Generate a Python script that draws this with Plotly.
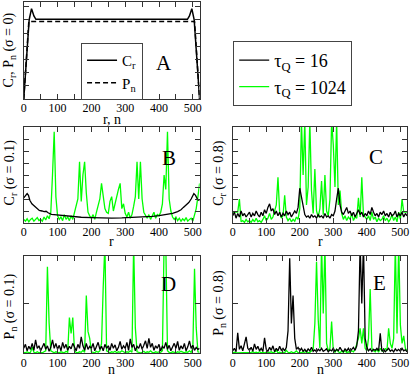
import plotly.graph_objects as go

# ---- panel A: sigma = 0 ----
r_a = [0, 16, 23, 30, 36, 484, 490, 497, 504, 520]
cr_a = [0, 6.0, 6.86, 6.3, 6.05, 6.05, 6.3, 6.86, 6.0, 0]
n_a = [0, 15, 505, 520]
pn_a = [0, 5.88, 5.88, 0]

# regular grid of sites (step 5) for panels B-E
sites = list(range(0, 521, 5))

# ---- panel B: C_r, sigma = 0.1 ----
r_b_16 = [0, 5, 10, 14, 18, 24, 30, 38, 46, 54, 60, 66, 72, 82, 95, 110, 130, 150, 170,
          200, 230, 260, 290, 320, 350, 380, 400, 420, 440, 455, 465, 472, 480, 488,
          495, 500, 503, 508, 514, 520]
cr_b_16 = [2.1, 2.3, 2.45, 2.3, 1.9, 1.6, 1.45, 1.25, 1.05, 1.0, 0.95, 0.98, 0.85, 0.72,
           0.68, 0.62, 0.55, 0.52, 0.48, 0.45, 0.4, 0.4, 0.42, 0.45, 0.5, 0.55, 0.62,
           0.7, 0.8, 0.95, 1.1, 1.3, 1.5, 1.7, 2.0, 2.35, 2.45, 2.3, 1.95, 1.85]
cr_b_1024 = [0.3, 0.15, 0.35, 0.1, 0.3, 0.4, 0.15, 0.3, 0.45, 0.2,
             0.3, 0.15, 0.5, 0.25, 0.6, 0.35, 0.9, 4.0, 7.6, 2.2,
             0.6, 0.3, 0.5, 0.2, 0.7, 0.3, 0.5, 0.2, 0.6, 0.3,
             0.8, 1.3, 2.0, 5.1, 1.8, 4.0, 5.1, 2.5, 0.9, 0.6,
             0.4, 0.7, 0.3, 0.9, 1.4, 2.0, 3.3, 2.3, 1.2, 0.9,
             0.8, 1.8, 2.2, 1.0, 1.6, 2.4, 2.8, 3.3, 1.2, 1.6,
             0.8, 0.5, 0.9, 0.4, 0.7, 1.4, 2.2, 5.1, 2.0, 5.1,
             2.0, 0.9, 0.6, 0.4, 0.7, 0.3, 0.6, 0.9, 0.4, 0.7,
             0.6, 0.9, 1.6, 4.0, 2.8, 7.6, 2.0, 1.0, 0.5, 0.3,
             0.5, 0.2, 0.4, 0.15, 0.35, 0.2, 0.45, 0.15, 0.3, 0.4,
             0.15, 0.6, 1.2, 2.2, 3.3]

# ---- panel C: C_r, sigma = 0.8 ----
cr_c_16 = [0.6, 0.9, 0.4, 0.8, 0.5, 1.0, 0.6, 0.8, 0.5, 0.7,
           0.9, 0.5, 0.8, 0.6, 1.0, 0.7, 0.5, 0.9, 0.6, 1.1,
           0.8, 1.3, 1.6, 1.0, 1.2, 0.7, 1.0, 0.6, 0.9, 0.5,
           0.8, 0.6, 1.0, 0.7, 0.9, 0.5, 0.8, 1.0, 0.8, 1.3,
           2.9, 2.2, 1.2, 0.7, 0.5, 0.6, 0.4, 0.7, 0.5, 0.6,
           0.4, 0.7, 0.5, 0.6, 0.4, 0.8, 0.5, 0.6, 0.4, 0.7,
           0.6, 1.0, 2.0, 2.9, 1.5, 0.9, 0.7, 1.0, 1.3, 0.8,
           1.0, 0.6, 0.9, 0.5, 0.8, 1.1, 0.7, 0.9, 0.5, 0.8,
           0.6, 1.0, 0.7, 1.3, 0.9, 0.6, 0.8, 0.5, 0.9, 0.7,
           1.0, 0.6, 0.8, 0.5, 0.9, 0.6, 0.7, 1.0, 0.5, 0.8,
           0.6, 0.9, 0.5, 0.8, 0.6]
cr_c_1024 = [0.9, 0.9, 0.9, 0.9, 2.0, 0.1, 0.2, 0.05, 0.3, 0.1,
             0.2, 0.05, 0.3, 0.1, 0.4, 0.1, 0.2, 0.05, 0.3, 0.6,
             0.2, 0.4, 0.8, 0.3, 0.5, 1.0, 1.5, 3.8, 0.9, 0.4,
             0.6, 2.3, 0.5, 0.2, 0.4, 0.1, 0.3, 0.15, 0.5, 0.3,
             1.2, 8.5, 4.0, 8.5, 1.5, 3.0, 8.5, 2.7, 0.8, 4.5,
             1.0, 0.5, 1.2, 3.5, 0.7, 4.0, 1.0, 0.6, 2.0, 8.5,
             6.5, 3.0, 8.5, 1.5, 2.7, 0.8, 0.3, 0.6, 0.2, 0.5,
             0.3, 0.8, 0.2, 0.5, 0.4, 2.1, 0.5, 3.8, 0.6, 0.5,
             0.3, 0.6, 0.2, 0.9, 0.3, 0.5, 0.1, 0.4, 0.2, 0.3,
             0.6, 0.2, 0.4, 0.1, 0.3, 0.7, 0.2, 0.5, 0.1, 0.9,
             0.3, 2.0, 0.9, 0.9, 0.9]

# ---- panel D: P_n, sigma = 0.1 ----
pn_d_16 = [0.1, 0.18, 0.05, 0.14, 0.08, 0.2, 0.06, 0.27, 0.1, 0.15,
           0.05, 0.12, 0.2, 0.08, 0.15, 0.04, 0.12, 0.27, 0.1, 0.2,
           0.08, 0.16, 0.05, 0.22, 0.1, 0.18, 0.06, 0.14, 0.09, 0.2,
           0.12, 0.05, 0.18, 0.1, 0.33, 0.15, 0.06, 0.2, 0.08, 0.14,
           0.1, 0.2, 0.05, 0.16, 0.22, 0.08, 0.14, 0.05, 0.18, 0.1,
           0.15, 0.06, 0.2, 0.1, 0.17, 0.05, 0.12, 0.24, 0.08, 0.15,
           0.1, 0.22, 0.06, 0.29, 0.12, 0.18, 0.05, 0.14, 0.1, 0.2,
           0.08, 0.16, 0.25, 0.1, 0.3, 0.12, 0.2, 0.06, 0.15, 0.1,
           0.18, 0.05, 0.14, 0.1, 0.22, 0.08, 0.16, 0.05, 0.12, 0.2,
           0.1, 0.24, 0.06, 0.15, 0.09, 0.2, 0.05, 0.13, 0.25, 0.1,
           0.16, 0.06, 0.12, 0.08, 0.1]
pn_d_1024 = [0.02, 0.01, 0.03, 0.01, 0.02, 0.12, 0.02, 0.01, 0.03, 0.01,
             0.02, 0.01, 0.03, 0.05, 1.74, 0.61, 0.05, 0.02, 0.01, 0.03,
             0.02, 0.01, 0.03, 0.02, 0.01, 0.04, 0.02, 0.72, 0.4, 0.72,
             0.05, 0.02, 0.01, 0.03, 0.02, 0.06, 0.02, 1.16, 0.44, 0.3,
             0.03, 0.02, 0.01, 0.04, 0.02, 0.05, 0.2, 1.33, 2.2, 0.05,
             0.02, 0.01, 0.03, 0.02, 0.04, 0.01, 0.03, 0.02, 0.05, 0.02,
             0.01, 0.03, 0.02, 0.05, 0.02, 2.2, 0.51, 0.03, 0.02, 0.01,
             0.02, 0.04, 0.01, 0.03, 0.02, 0.05, 0.02, 0.01, 0.03, 0.02,
             0.03, 0.02, 0.05, 2.2, 2.2, 0.05, 0.02, 0.01, 0.03, 0.02,
             0.01, 0.03, 0.02, 0.04, 0.02, 0.01, 0.03, 0.02, 0.05, 0.02,
             0.1, 1.7, 0.51, 0.03, 0.02]

# ---- panel E: P_n, sigma = 0.8 ----
pn_e_16 = [0.05, 0.1, 0.03, 0.41, 0.08, 0.15, 0.05, 0.2, 0.33, 0.1,
           0.06, 0.12, 0.04, 0.19, 0.08, 0.14, 0.05, 0.1, 0.04, 0.31,
           0.08, 0.04, 0.12, 0.06, 0.15, 0.03, 0.1, 0.05, 0.14, 0.06,
           0.1, 0.05, 0.12, 0.45, 1.91, 0.6, 1.16, 0.3, 0.08, 0.12,
           0.05, 0.1, 0.04, 0.08, 0.03, 0.09, 0.05, 0.12, 0.04, 0.07,
           0.03, 0.08, 0.05, 0.1, 0.04, 0.06, 0.09, 0.03, 0.07, 0.05,
           0.1, 0.04, 0.08, 0.05, 0.12, 0.06, 0.03, 0.09, 0.05, 0.1,
           0.04, 0.08, 0.12, 0.06, 0.15, 0.45, 2.2, 1.0, 2.2, 0.3,
           0.12, 0.05, 0.09, 0.04, 0.08, 0.06, 0.1, 0.05, 0.4, 0.04,
           0.08, 0.03, 0.06, 0.1, 0.04, 0.07, 0.03, 0.09, 0.05, 0.08,
           0.04, 0.1, 0.05, 0.07, 0.03]
pn_e_1024 = [0.01, 0.02, 0.01, 0.01, 0.02, 0.01, 0.02, 0.01, 0.01, 0.02,
             0.01, 0.02, 0.03, 0.01, 0.02, 0.01, 0.03, 0.01, 0.02, 0.01,
             0.02, 0.01, 0.02, 0.03, 0.01, 0.02, 0.06, 0.01, 0.02, 0.01,
             0.02, 0.01, 0.06, 0.02, 0.01, 0.03, 0.01, 0.02, 0.05, 0.01,
             0.02, 0.01, 0.03, 0.02, 0.04, 0.01, 0.02, 0.05, 0.08, 0.6,
             1.84, 0.68, 0.1, 2.2, 0.8, 2.2, 0.2, 0.05, 0.1, 0.64,
             0.05, 0.02, 0.08, 0.03, 0.01, 0.04, 0.02, 0.06, 0.01, 0.03,
             0.02, 0.05, 0.03, 0.08, 0.2, 0.3, 0.5, 0.2, 0.5, 0.1,
             0.05, 0.3, 1.29, 0.1, 0.05, 0.03, 0.08, 0.02, 0.1, 0.05,
             0.03, 0.1, 0.05, 0.5, 0.2, 0.1, 0.3, 2.2, 0.4, 2.2,
             0.57, 0.2, 0.35, 0.1, 0.05]

BLACK = "black"
GREEN = "#00ff00"
SERIF = "Liberation Serif, Times New Roman, Times, serif"
AXC = "#333333"

fig = go.Figure()

# panel A
fig.add_trace(go.Scatter(x=r_a, y=cr_a, mode="lines", name="C<sub>r</sub>",
                         line=dict(color=BLACK, width=1.5), xaxis="x", yaxis="y"))
fig.add_trace(go.Scatter(x=n_a, y=pn_a, mode="lines", name="P<sub>n</sub>",
                         line=dict(color=BLACK, width=1.5, dash="5px,3px"),
                         xaxis="x", yaxis="y"))

# panels B-E (green underneath, black on top)
panels = [
    ("x2", "y2", sites, cr_b_1024, r_b_16, cr_b_16),
    ("x3", "y3", sites, cr_c_1024, sites, cr_c_16),
    ("x4", "y4", sites, pn_d_1024, sites, pn_d_16),
    ("x5", "y5", sites, pn_e_1024, sites, pn_e_16),
]
for i, (xa, ya, xg, yg, xb, yb) in enumerate(panels):
    first = i == 0
    fig.add_trace(go.Scatter(x=xg, y=yg, mode="lines", name="τ<sub>Q</sub> = 1024",
                             line=dict(color=GREEN, width=1.3), xaxis=xa, yaxis=ya,
                             legend="legend2", legendrank=2, showlegend=first))
    fig.add_trace(go.Scatter(x=xb, y=yb, mode="lines", name="τ<sub>Q</sub> = 16",
                             line=dict(color=BLACK, width=1.3), xaxis=xa, yaxis=ya,
                             legend="legend2", legendrank=1, showlegend=first))


def xax(domain, anchor):
    return dict(domain=domain, anchor=anchor, range=[0, 520],
                tickvals=[0, 100, 200, 300, 400, 500], ticks="inside", ticklen=5,
                tickcolor=AXC, minor=dict(tickvals=[50, 150, 250, 350, 450],
                                          ticks="inside", ticklen=5, tickcolor=AXC),
                showline=True, linecolor=AXC, linewidth=1, mirror="allticks",
                showgrid=False, zeroline=False, ticklabelstandoff=-2,
                tickfont=dict(family=SERIF, size=12, color="black"))


def yax(domain, anchor, rng, dtick):
    return dict(domain=domain, anchor=anchor, range=rng, dtick=dtick, tick0=0,
                ticks="inside", ticklen=5, tickcolor=AXC, showticklabels=False,
                showline=True, linecolor=AXC, linewidth=1, mirror="allticks",
                showgrid=False, zeroline=False)


xl = [21 / 415, 199 / 415]
xr = [232.5 / 415, 409 / 415]
ya = [1 - 99 / 377, 1 - 1.5 / 377]
yb = [1 - 223 / 377, 1 - 127 / 377]
yd = [1 - 353.3 / 377, 1 - 255.7 / 377]

fig.update_layout(
    width=415, height=377, margin=dict(l=0, r=0, t=0, b=0),
    plot_bgcolor="white", paper_bgcolor="white",
    xaxis=xax(xl, "y"), yaxis=yax(ya, "x", [0, 7.4], 1),
    xaxis2=xax(xl, "y2"), yaxis2=yax(yb, "x2", [0, 8], 1),
    xaxis3=xax(xr, "y3"), yaxis3=yax(yb, "x3", [0, 8], 1),
    xaxis4=xax(xl, "y4"), yaxis4=yax(yd, "x4", [0, 1.96], 1),
    xaxis5=xax(xr, "y5"), yaxis5=yax(yd, "x5", [0, 1.96], 1),
    legend=dict(x=79 / 415, y=1 - 43 / 377, xanchor="left", yanchor="top",
                bgcolor="white", bordercolor="#444", borderwidth=1,
                font=dict(family=SERIF, size=15, color="black"),
                itemwidth=30, tracegroupgap=0),
    legend2=dict(x=233 / 415, y=1 - 41 / 377, xanchor="left", yanchor="top",
                 bgcolor="white", bordercolor="#444", borderwidth=1,
                 font=dict(family=SERIF, size=18, color="black"),
                 itemwidth=30, tracegroupgap=0),
    showlegend=True,
)

# axis titles
ytitles = [
    ("C<sub>r</sub>, P<sub>n</sub> (σ = 0)", 7.5, 50),
    ("C<sub>r</sub> (σ = 0.1)", 7.5, 172),
    ("C<sub>r</sub> (σ = 0.8)", 218.5, 173),
    ("P<sub>n</sub> (σ = 0.1)", 7.5, 306),
    ("P<sub>n</sub> (σ = 0.8)", 218.5, 303),
]
for text, px, py in ytitles:
    fig.add_annotation(text=text, x=px / 415, y=1 - py / 377, xref="paper", yref="paper",
                       textangle=-90, showarrow=False, xanchor="center", yanchor="middle",
                       font=dict(family=SERIF, size=14, color="black"))

xtitles = [("r, n", 110, 119), ("r", 110, 242), ("r", 321, 242), ("n", 110, 369),
           ("n", 321, 369)]
for text, px, py in xtitles:
    fig.add_annotation(text=text, x=px / 415, y=1 - py / 377, xref="paper", yref="paper",
                       showarrow=False, xanchor="center", yanchor="middle",
                       font=dict(family=SERIF, size=14, color="black"))

# panel letters
letters = [("A", 163, 63), ("B", 168, 158), ("C", 378, 157), ("D", 168, 284), ("E", 381, 283)]
for text, px, py in letters:
    fig.add_annotation(text=text, x=px / 415, y=1 - py / 377, xref="paper", yref="paper",
                       showarrow=False, xanchor="center", yanchor="middle",
                       font=dict(family=SERIF, size=21, color="black"))

fig.write_html("out.html", config={"displayModeBar": False},
               post_script="document.body.style.margin='0';")
